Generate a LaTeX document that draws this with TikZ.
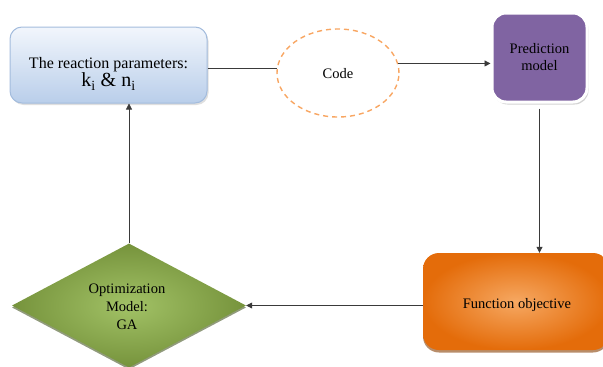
\documentclass[tikz,border=0pt]{standalone}
\usepackage{fontspec}
\setmainfont{Liberation Serif}
\usetikzlibrary{shapes.geometric,shadows,arrows.meta,calc}

\definecolor{linegray}{HTML}{3A3A3A}
\definecolor{paramtop}{HTML}{F2F6FC}
\definecolor{parambot}{HTML}{B9CEEA}
\definecolor{paramedge}{HTML}{A3BCDD}
\definecolor{codeorange}{HTML}{F79646}
\definecolor{predpurple}{HTML}{8064A2}
\definecolor{fobjin}{HTML}{F6A862}
\definecolor{fobjout}{HTML}{E46C0A}
\definecolor{gain}{HTML}{A2C266}
\definecolor{gaout}{HTML}{76933C}

\tikzset{
  conn/.style={draw=linegray, line width=0.8pt},
  arr/.style={conn, -{Triangle[length=6pt,width=6pt]}},
  lbl/.style={font=\fontsize{14.5}{17}\selectfont, align=center},
  parambox/.style={rectangle, rounded corners=12pt, draw=paramedge, line width=1pt,
    top color=paramtop, bottom color=parambot,
    minimum width=197pt, minimum height=76pt, inner sep=0pt,
    drop shadow={shadow xshift=1.5pt, shadow yshift=-2pt, opacity=0.25}},
  codeshape/.style={ellipse, draw=codeorange!85, dashed, dash pattern=on 5pt off 4pt,
    line width=1.4pt, minimum width=122pt, minimum height=88pt, inner sep=0pt},
  predbox/.style={rectangle, rounded corners=14pt, draw=white, line width=3pt,
    fill=predpurple, minimum width=95pt, minimum height=89pt, inner sep=0pt,
    drop shadow={shadow xshift=1.5pt, shadow yshift=-2.5pt, opacity=0.35}},
  fobjbox/.style={rectangle, rounded corners=16pt, inner color=fobjin, outer color=fobjout,
    minimum width=186pt, minimum height=97pt, inner sep=0pt,
    drop shadow={shadow xshift=0pt, shadow yshift=-2.5pt, opacity=0.6, fill=fobjout!60!black}},
  gabox/.style={diamond, aspect=1.887, inner color=gain, outer color=gaout,
    minimum width=234pt, minimum height=124pt, inner sep=0pt,
    drop shadow={shadow xshift=0pt, shadow yshift=-2pt, opacity=0.6, fill=gaout!60!black}},
}

\begin{document}
\begin{tikzpicture}[x=1pt, y=-1pt]
  \useasboundingbox (0,0) rectangle (603,367);

  % shapes
  \node[parambox] (rp) at (108.5,65) {};
  \node[lbl, font=\fontsize{16}{18}\selectfont, anchor=center] (rptext) at (108.5,74)
    {The reaction parameters:\\[0pt]
     {\fontsize{20}{22}\selectfont k\textsubscript{i} \& n\textsubscript{i}}};
  \node[codeshape] (code) at (338,73) {};
  \node[lbl] (codetext) at (338,74) {Code};
  \node[predbox] (pred) at (539.5,57.5) {};
  \node[lbl] (predtext) at (539.5,57) {Prediction\\model};
  \node[fobjbox] (fobj) at (516,301.5) {};
  \node[lbl] (fobjtext) at (517,305) {Function objective};
  \node[gabox] (ga) at (129,305.5) {};
  \node[lbl] (gatext) at (127,307) {Optimization\\[1pt]Model:\\[1pt]GA};

  % connectors
  \draw[conn] (rp.east |- code.176) -- (code.176);
  \draw[arr] (code.9) -- (code.9 -| pred.west);
  \draw[arr] ($(pred.south)+(0,5)$) -- (pred.south |- fobj.north);
  \draw[arr] (ga.east -| fobj.west) -- (ga.east);
  \draw[arr] (ga.north) -- (ga.north |- rp.south);
\end{tikzpicture}
\end{document}
